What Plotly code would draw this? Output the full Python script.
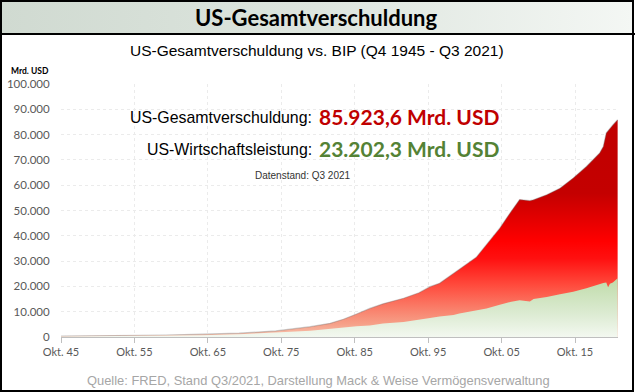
import base64
import plotly.graph_objects as go

# ---------------- data (values in thousand Mrd. USD, i.e. 1 = 1.000 Mrd. USD) -------------
years = [1945.75, 1950.0, 1955.0, 1960.0, 1965.0, 1970.0, 1975.0, 1977.0, 1979.7, 1982.4,
         1984.2, 1986.0, 1987.8, 1989.6, 1992.4, 1994.5, 1996.0, 1997.3, 1999.2, 2000.0,
         2002.3, 2003.7, 2005.5, 2006.9, 2008.2, 2009.6, 2010.1, 2011.9, 2013.7, 2015.5,
         2017.3, 2019.1, 2019.6, 2020.0, 2020.25, 2020.5, 2020.9, 2021.55]
debt = [0.36, 0.45, 0.6, 0.8, 1.1, 1.5, 2.4, 3.0, 4.1, 5.4,
        7.0, 9.1, 11.3, 13.1, 15.3, 17.5, 19.9, 21.2, 24.9, 26.8,
        31.5, 36.4, 43.0, 49.0, 54.3, 53.9, 54.2, 56.2, 58.8, 62.8,
        67.4, 72.7, 75.3, 80.6, 81.5, 82.6, 83.8, 85.9]
gdp = [0.22, 0.30, 0.42, 0.54, 0.74, 1.07, 1.65, 2.1, 2.5, 3.3,
       3.8, 4.2, 4.5, 5.3, 5.9, 7.0, 7.5, 8.1, 8.7, 9.3,
       10.5, 11.3, 12.7, 13.8, 14.5, 14.0, 15.0, 15.8, 16.9, 17.9,
       19.3, 21.0, 21.3, 21.5, 19.7, 21.0, 21.5, 23.2]

x_tickvals = [1945.75, 1955.75, 1965.75, 1975.75, 1985.75, 1995.75, 2005.75, 2015.75]
x_ticktext = ["Okt. 45", "Okt. 55", "Okt. 65", "Okt. 75", "Okt. 85", "Okt. 95", "Okt. 05", "Okt. 15"]
y_tickvals = [0, 10, 20, 30, 40, 50, 60, 70, 80, 90, 100]
y_ticktext = ["0", "10.000", "20.000", "30.000", "40.000", "50.000", "60.000",
              "70.000", "80.000", "90.000", "100.000"]

title_text = "US-Gesamtverschuldung"
subtitle_text = "US-Gesamtverschuldung vs. BIP (Q4 1945 - Q3 2021)"
debt_label = "US-Gesamtverschuldung:"
debt_value = "85.923,6 Mrd. USD"
gdp_label = "US-Wirtschaftsleistung:"
gdp_value = "23.202,3 Mrd. USD"
stand_text = "Datenstand: Q3 2021"
source_text = "Quelle: FRED, Stand Q3/2021, Darstellung Mack & Weise Vermögensverwaltung"
unit_text = "Mrd. USD"

# ---------------- layout geometry -------------
W, H = 635, 392
L, R, T, B = 61, 17, 84, 55
PW, PH = W - L - R, H - T - B


def px(xp):
    return (xp - L) / PW


def py(yp):
    return (H - B - yp) / PH


fig = go.Figure()

fig.add_trace(go.Scatter(
    x=years, y=debt, mode="lines", fill="tozeroy",
    line=dict(color="rgba(110,110,110,0.35)", width=1.2),
    fillgradient=dict(
        type="vertical", start=0, stop=86,
        colorscale=[[0.0, "#f7c4b0"], [0.06, "#f6a088"], [0.14, "#fa7a66"],
                    [0.24, "#ff4a3c"], [0.36, "#ff1010"], [0.44, "#ff0000"],
                    [0.58, "#d90000"], [0.66, "#c40000"], [1.0, "#c00000"]]),
    hoverinfo="skip", showlegend=False))

fig.add_trace(go.Scatter(
    x=years, y=gdp, mode="lines", fill="tozeroy",
    line=dict(color="rgba(0,0,0,0)", width=0),
    fillgradient=dict(
        type="vertical", start=0, stop=23.2,
        colorscale=[[0.0, "#f3f8f0"], [0.4, "#dcebd2"], [1.0, "#bfdba9"]]),
    hoverinfo="skip", showlegend=False))

svg = ('<svg xmlns="http://www.w3.org/2000/svg" width="632" height="33" preserveAspectRatio="none">'
       '<defs><linearGradient id="g" x1="0" y1="0" x2="1" y2="0">'
       '<stop offset="0" stop-color="#d0dad1"/><stop offset="0.5" stop-color="#dde5de"/>'
       '<stop offset="1" stop-color="#f4f7f4"/></linearGradient></defs>'
       '<rect width="632" height="33" fill="url(#g)"/></svg>')
svg_uri = "data:image/svg+xml;base64," + base64.b64encode(svg.encode()).decode()

ann = []
ann.append(dict(text="<b>" + title_text + "</b>", x=px(316), y=py(18), xanchor="center", yanchor="middle",
                font=dict(family="Lato", size=22, color="#000000")))
ann.append(dict(text=subtitle_text, x=px(317), y=py(50), xanchor="center", yanchor="middle",
                font=dict(family="Liberation Sans", size=15.5, color="#000000")))
ann.append(dict(text="<b>" + unit_text + "</b>", x=px(9), y=py(71), xanchor="left", yanchor="middle",
                font=dict(family="Lato", size=8.5, color="#000000")))
ann.append(dict(text=debt_label, x=px(314), y=py(117), xanchor="right", yanchor="middle",
                font=dict(family="Liberation Sans", size=15.9, color="#000000")))
ann.append(dict(text="<b>" + debt_value + "</b>", x=px(317), y=py(116), xanchor="left", yanchor="middle",
                font=dict(family="Lato", size=21, color="#c00000")))
ann.append(dict(text=gdp_label, x=px(314), y=py(149), xanchor="right", yanchor="middle",
                font=dict(family="Liberation Sans", size=15.9, color="#000000")))
ann.append(dict(text="<b>" + gdp_value + "</b>", x=px(317), y=py(148), xanchor="left", yanchor="middle",
                font=dict(family="Lato", size=21, color="#548235")))
ann.append(dict(text=stand_text, x=px(303), y=py(175), xanchor="center", yanchor="middle",
                font=dict(family="Liberation Sans", size=10, color="#333333")))
ann.append(dict(text=source_text, x=px(318), y=py(381), xanchor="center", yanchor="middle",
                font=dict(family="Liberation Sans", size=12.9, color="#a6a6a6")))
for a in ann:
    a.update(xref="paper", yref="paper", showarrow=False)

shapes = [
    dict(type="line", xref="paper", yref="paper", x0=px(0), x1=px(W), y0=py(34), y1=py(34),
         line=dict(color="#000000", width=2)),
    dict(type="rect", xref="paper", yref="paper", x0=px(1), x1=px(633), y0=py(1), y1=py(391),
         line=dict(color="#000000", width=2)),
]

fig.update_layout(
    width=W, height=H,
    margin=dict(l=L, r=R, t=T, b=B, autoexpand=False),
    paper_bgcolor="#ffffff", plot_bgcolor="#ffffff",
    annotations=ann, shapes=shapes,
    images=[dict(source=svg_uri, xref="paper", yref="paper", x=px(1), y=py(1),
                 sizex=632 / PW, sizey=33 / PH, sizing="stretch", xanchor="left", yanchor="top",
                 layer="below")],
    xaxis=dict(range=[1945.75, 2021.6], tickvals=x_tickvals, ticktext=x_ticktext,
               showgrid=True, gridcolor="#ebebeb", griddash="dot", gridwidth=1,
               showline=True, linecolor="#bfbfbf", linewidth=1,
               ticks="outside", ticklen=5, tickcolor="#bfbfbf",
               tickfont=dict(family="Lato", size=11, color="#595959"),
               zeroline=False, fixedrange=True),
    yaxis=dict(range=[0, 100], tickvals=y_tickvals, ticktext=y_ticktext,
               showgrid=True, gridcolor="#ebebeb", griddash="dot", gridwidth=1,
               showline=False, zeroline=False,
               ticks="outside", ticklen=8, tickcolor="rgba(0,0,0,0)",
               tickfont=dict(family="Lato", size=11.5, color="#595959"), fixedrange=True),
)

fig.write_html("out.html", config={"displayModeBar": False},
               post_script="document.body.style.margin='0';document.body.style.overflow='hidden';")
